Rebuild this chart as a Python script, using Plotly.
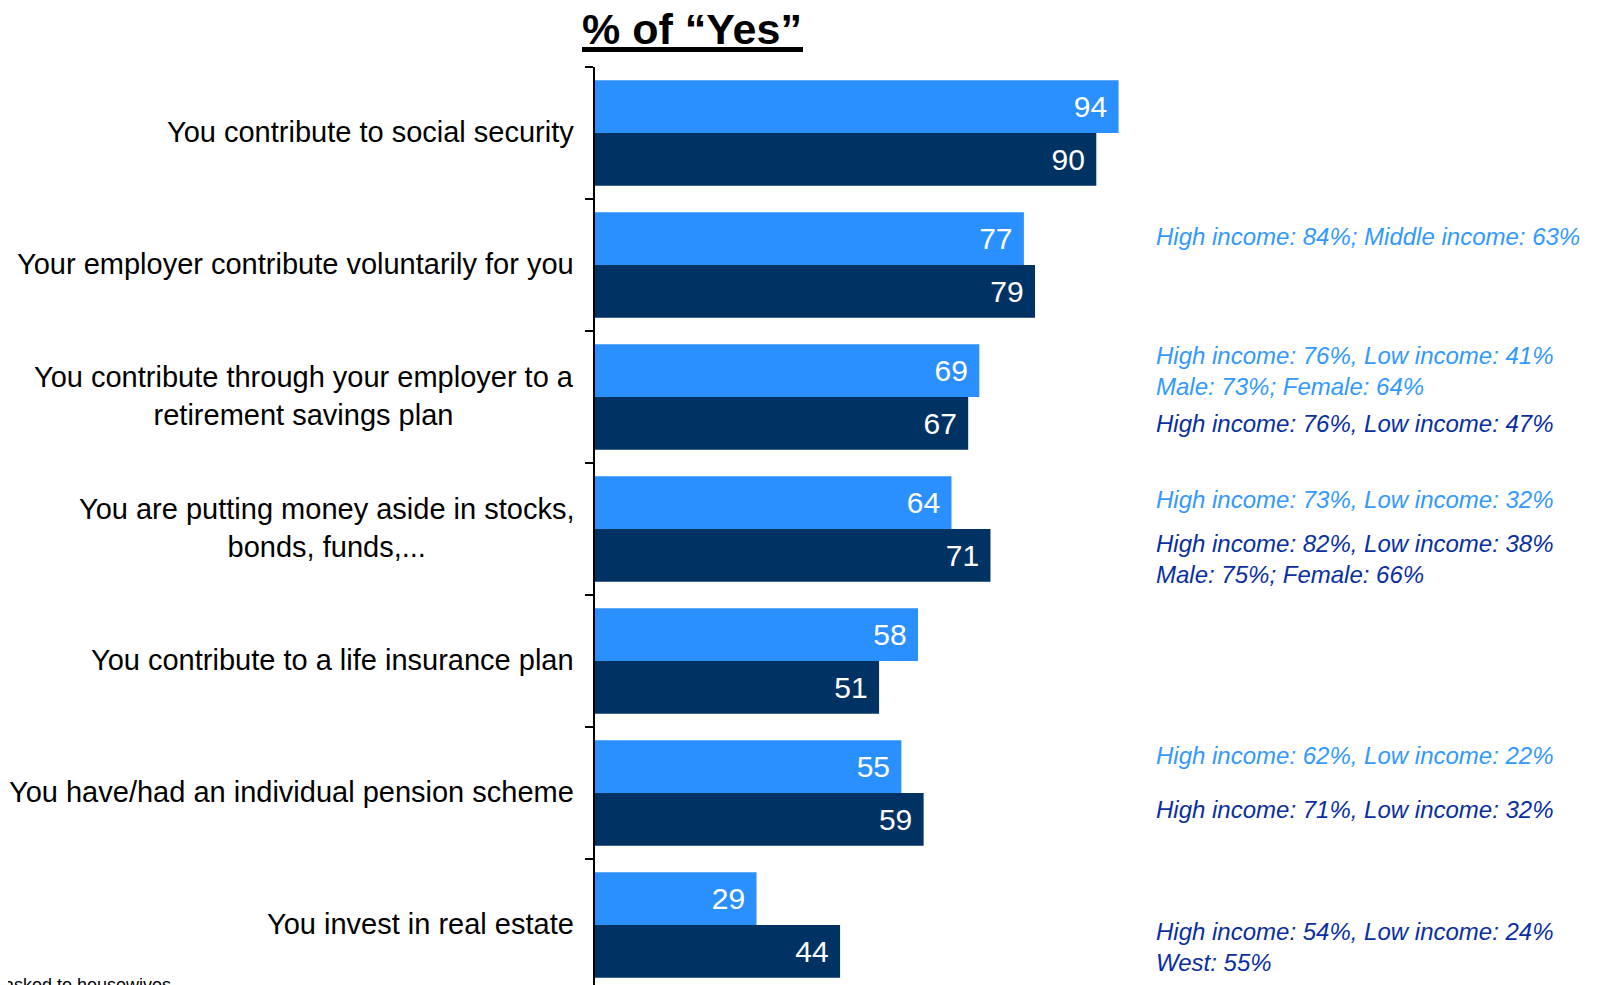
import plotly.graph_objects as go

categories = [
    "You contribute to social security",
    "Your employer contribute voluntarily for you",
    "You contribute through your employer to a<br>retirement savings plan",
    "You are putting money aside in stocks,<br>bonds, funds,...",
    "You contribute to a life insurance plan",
    "You have/had an individual pension scheme",
    "You invest in real estate",
]
light_values = [94, 77, 69, 64, 58, 55, 29]
dark_values = [90, 79, 67, 71, 51, 59, 44]

# side notes: (category index, text, vertical offset in px)
notes_light = [
    (1, "High income: 84%; Middle income: 63%", 29),
    (2, "High income: 76%, Low income: 41%<br>Male: 73%; Female: 64%", 26),
    (3, "High income: 73%, Low income: 32%", 30),
    (5, "High income: 62%, Low income: 22%", 38),
]
notes_dark = [
    (2, "High income: 76%, Low income: 47%", -26),
    (3, "High income: 82%, Low income: 38%<br>Male: 75%; Female: 66%", -30),
    (5, "High income: 71%, Low income: 32%", -16),
    (6, "High income: 54%, Low income: 24%<br>West: 55%", -22),
]

LIGHT = "#2A90FF"
DARK = "#003263"
NOTE_LIGHT = "#3399FF"
NOTE_DARK = "#0A2FA0"
FONT = "Liberation Sans, Arial, sans-serif"

W, H = 1593, 977  # page has an 8px body margin
ML, MT = 587, 59
PLOT_W = 557
PLOT_H = H - MT
MR = W - ML - PLOT_W

fig = go.Figure()
for vals, col in ((light_values, LIGHT), (dark_values, DARK)):
    fig.add_trace(go.Bar(
        y=categories, x=vals, orientation="h", marker=dict(color=col, line=dict(width=0)),
        text=[f"{v}\u00a0" for v in vals], textposition="inside", insidetextanchor="end",
        textfont=dict(color="white", size=30, family=FONT), constraintext="none", textangle=0,
        showlegend=False, hoverinfo="skip",
    ))

annotations = []
for c in categories:
    annotations.append(dict(
        xref="paper", yref="y", x=0, y=c, xanchor="right", yanchor="middle",
        xshift=-19, yshift=1, text=c, showarrow=False, align="center",
        font=dict(size=29, color="black", family=FONT),
    ))
for notes, col in ((notes_light, NOTE_LIGHT), (notes_dark, NOTE_DARK)):
    for i, t, dy in notes:
        annotations.append(dict(
            xref="paper", yref="y", x=1, y=categories[i], xanchor="left", yanchor="middle",
            xshift=2, yshift=dy, text=f"<i>{t}</i>", showarrow=False, align="left",
            font=dict(size=24, color=col, family=FONT),
        ))
annotations.append(dict(
    xref="paper", yref="paper", x=(165 - ML) / PLOT_W, y=0, xanchor="right", yanchor="top",
    yshift=12, text="asked to housewives", showarrow=False,
    font=dict(size=18, color="black", family=FONT),
))

# title underline (thick rule under the heading)
shapes = [dict(
    type="line", xref="paper", yref="paper",
    x0=(574 - ML) / PLOT_W, x1=(795 - ML) / PLOT_W,
    y0=1 + (MT - 41.5) / PLOT_H, y1=1 + (MT - 41.5) / PLOT_H,
    line=dict(color="black", width=5),
)]

fig.update_layout(
    width=W, height=H,
    margin=dict(l=ML, r=MR, t=MT, b=0),
    paper_bgcolor="white", plot_bgcolor="white",
    barmode="group", bargap=0.2, bargroupgap=0,
    title=dict(text="<b>% of “Yes”</b>", x=(692 - 8) / W, xanchor="center",
               y=1 - (29 - 8) / H, yanchor="middle", xref="container", yref="container",
               font=dict(size=43, color="black", family=FONT)),
    annotations=annotations,
    shapes=shapes,
    xaxis=dict(range=[0, 100], visible=False, showgrid=False, zeroline=False),
    yaxis=dict(type="category", categoryorder="array", categoryarray=categories,
               range=[-0.5 + PLOT_H / 132, -0.5],
               showticklabels=False, ticks="outside", ticklen=8, tickwidth=2, tickcolor="black",
               tickson="boundaries", showline=True, linecolor="black", linewidth=2,
               showgrid=False, zeroline=False),
)

fig.write_html("out.html")
